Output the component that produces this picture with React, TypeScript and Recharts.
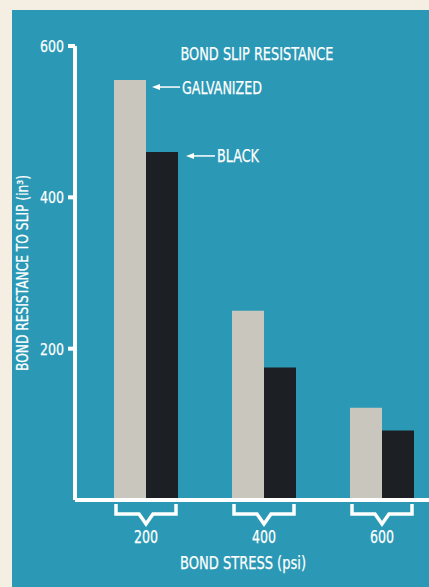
import React from 'react';
import { BarChart, Bar, XAxis, YAxis } from 'recharts';

// values
const stressLevels = ['200', '400', '600'];
const galvanizedResistance = [555, 250, 122];
const blackResistance = [460, 175, 92];
const yTicks = [200, 400, 600];

const TEAL = '#2b98b5';
const CREAM = '#f4efe2';
const GRAY_BAR = '#c9c6bd';
const BLACK_BAR = '#1c1f23';
const FONT = '"DejaVu Sans Condensed", "Liberation Sans Narrow", "Noto Sans", sans-serif';

const data = stressLevels.map((s, i) => ({
  stress: s,
  galvanized: galvanizedResistance[i],
  black: blackResistance[i],
}));

// condensed white text, squeezed to the width measured on the scan
const Txt = ({ len, size = 17, children, ...rest }: any) => (
  <text
    fill="#fff"
    stroke="#fff"
    strokeWidth={0.25}
    fontSize={size}
    fontFamily={FONT}
    textLength={len}
    lengthAdjust="spacingAndGlyphs"
    {...rest}
  >
    {children}
  </text>
);

const BraceTick = (props: any) => {
  const { x, y, payload } = props;
  const half = 30;
  const top = y + 4;
  return (
    <g>
      <path
        d={`M${x - half},${top} V${top + 10} H${x - 7} L${x},${top + 20} L${x + 7},${top + 10} H${x + half} V${top}`}
        stroke="#fff"
        strokeWidth={3.5}
        fill="none"
      />
      <Txt x={x} y={y + 43} textAnchor="middle" len={24} size={18}>
        {payload.value}
      </Txt>
    </g>
  );
};

const YTick = (props: any) => {
  const { x, y, payload } = props;
  return (
    <Txt x={x} y={y + 6} textAnchor="end" len={24} size={16.5}>
      {payload.value}
    </Txt>
  );
};

// arrow + text pointing at the first bar of a series
const pointer = (text: string, len: number, gap: number, arrow: number, dy: number) => (props: any) => {
  const { x, y, width, index } = props;
  if (index !== 0) return null;
  const ax = x + width + gap;
  const ay = y + dy;
  return (
    <g>
      <line x1={ax + 4} y1={ay} x2={ax + arrow} y2={ay} stroke="#fff" strokeWidth={1.5} />
      <path d={`M${ax},${ay} L${ax + 8},${ay - 3} L${ax + 8},${ay + 3} Z`} fill="#fff" />
      <Txt x={ax + arrow + 2} y={ay + 6.5} len={len} size={18}>
        {text}
      </Txt>
    </g>
  );
};

export default function App() {
  return (
    <div style={{ position: 'absolute', left: 0, top: 0, width: 429, height: 587, background: CREAM, overflow: 'hidden' }}>
      <div style={{ position: 'absolute', left: 12, top: 10, right: 0, bottom: 0, background: TEAL }} />
      <div style={{ position: 'absolute', left: 0, top: 0 }}>
        <BarChart
          width={445}
          height={587}
          data={data}
          margin={{ top: 46, right: 4, bottom: 0, left: 0 }}
          barGap={0}
          barSize={32}
        >
          <XAxis
            dataKey="stress"
            height={87}
            padding={{ left: 12, right: 0 }}
            axisLine={{ stroke: '#fff', strokeWidth: 4 }}
            tickLine={false}
            tickSize={0}
            tickMargin={0}
            tick={<BraceTick />}
            interval={0}
            label={{
              content: (p: any) => {
                const vb = p.viewBox;
                return (
                  <g>
                    <Txt x={243} y={vb.y + 69} textAnchor="middle" len={126} size={18}>
                      BOND STRESS (psi)
                    </Txt>
                    <Txt x={257} y={60} textAnchor="middle" len={153} size={17.5}>
                      BOND SLIP RESISTANCE
                    </Txt>
                  </g>
                );
              },
            }}
          />
          <YAxis
            width={75}
            domain={[0, 600]}
            ticks={yTicks}
            axisLine={{ stroke: '#fff', strokeWidth: 4 }}
            tickLine={{ stroke: '#fff', strokeWidth: 4 }}
            tickSize={7}
            tickMargin={4}
            tick={<YTick />}
            label={{
              content: (p: any) => {
                const vb = p.viewBox;
                const cx = 22;
                const cy = vb.y + vb.height / 2;
                return (
                  <Txt
                    x={cx}
                    y={cy}
                    transform={`rotate(-90 ${cx} ${cy})`}
                    textAnchor="middle"
                    dominantBaseline="central"
                    len={196}
                    size={16}
                  >
                    BOND RESISTANCE TO SLIP (in³)
                  </Txt>
                );
              },
            }}
          />
          <Bar dataKey="galvanized" fill={GRAY_BAR} isAnimationActive={false} label={pointer('GALVANIZED', 80, 6, 28, 7)} />
          <Bar dataKey="black" fill={BLACK_BAR} isAnimationActive={false} label={pointer('BLACK', 42, 8, 29, 4)} />
        </BarChart>
      </div>
    </div>
  );
}
